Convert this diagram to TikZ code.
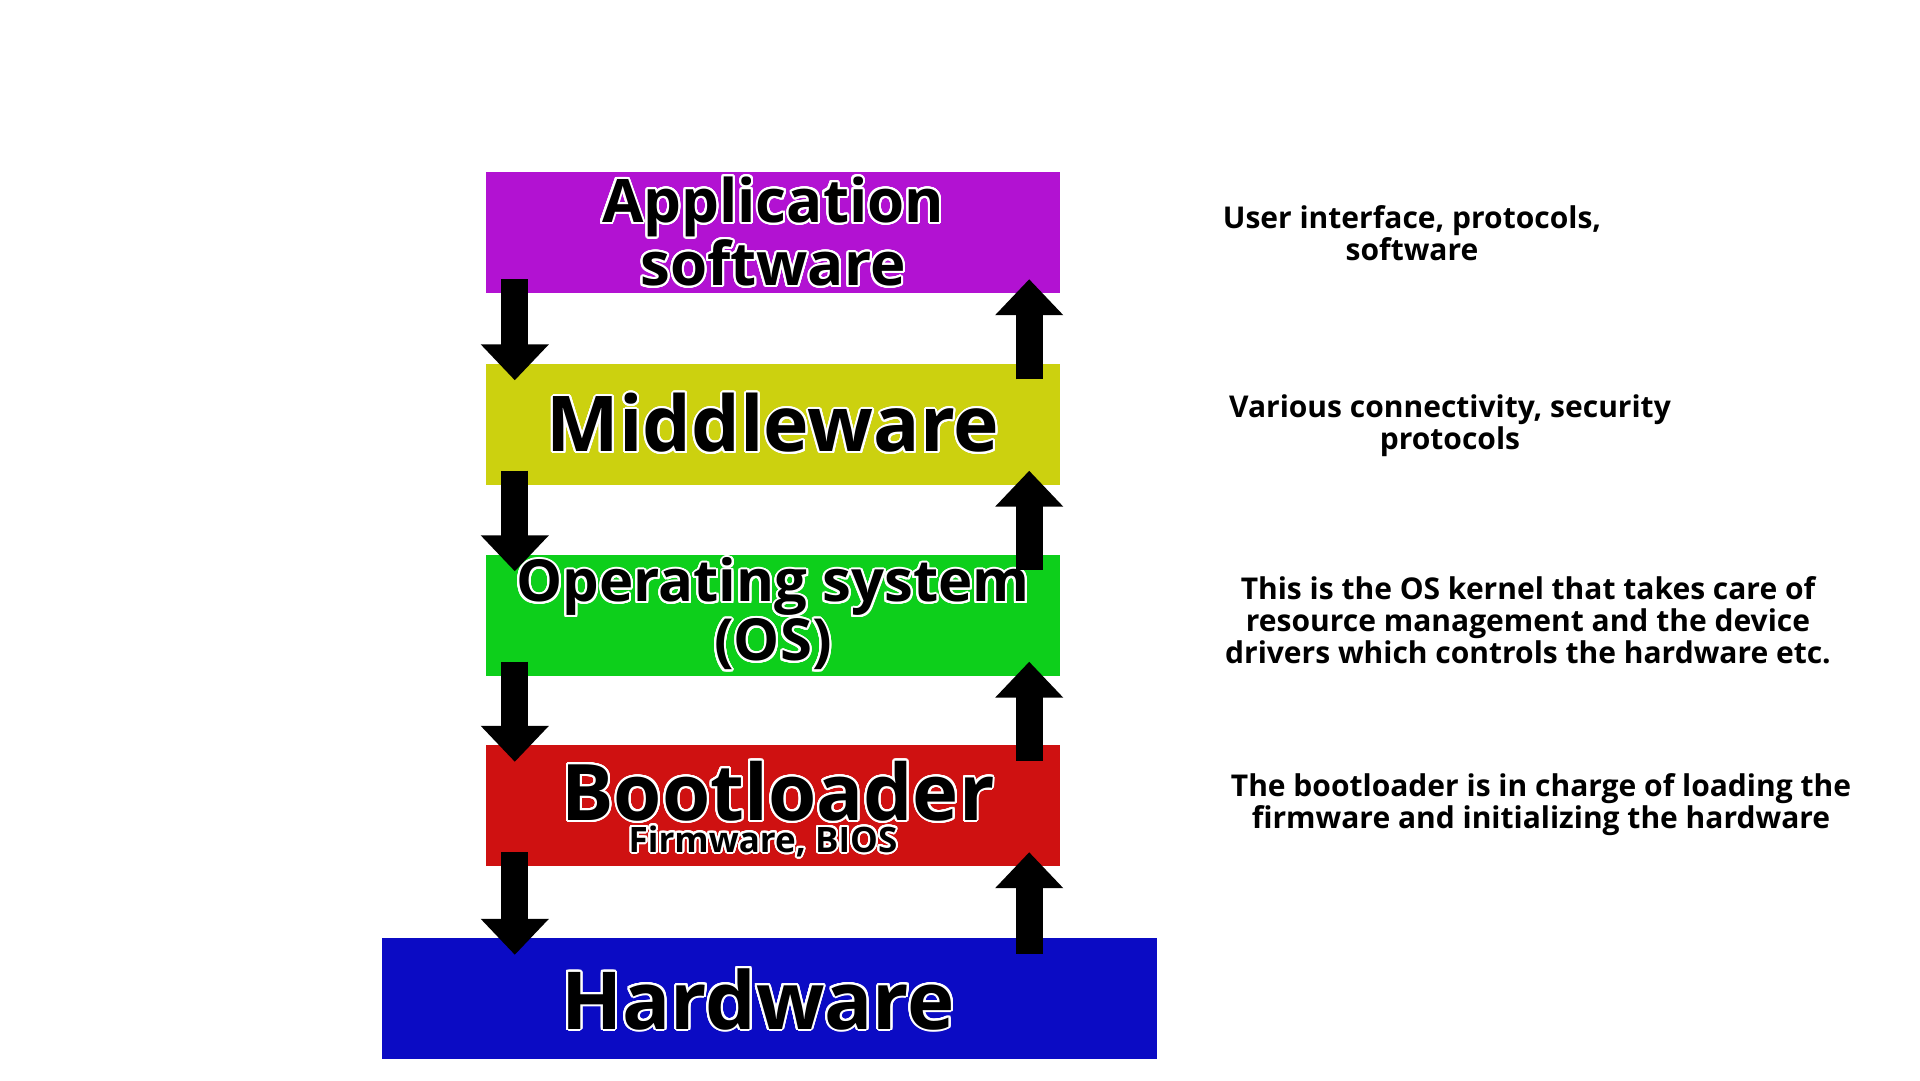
\documentclass[tikz,border=0pt]{standalone}
\usepackage{fontspec}
\setmainfont{Open Sans}
\usepackage{contour}
\contourlength{2pt}
\contournumber{32}
\usetikzlibrary{positioning, calc, arrows.meta}

\definecolor{appcol}{HTML}{B212D2}
\definecolor{midcol}{HTML}{CCD10F}
\definecolor{oscol}{HTML}{0DCF1B}
\definecolor{bootcol}{HTML}{CF1111}
\definecolor{hwcol}{HTML}{0B0BC4}

\tikzset{
	layer/.style={minimum width=574pt, minimum height=121pt, inner sep=0pt, font=\bfseries, align=center},
	desc/.style={font=\bfseries\fontsize{30}{32}\selectfont, align=center},
	flow/.style={line width=27pt, -{Triangle[width=66pt,length=36pt]}}
}

\begin{document}
\begin{tikzpicture}[x=1pt, y=-1pt]
		
		\useasboundingbox (0,0) rectangle (1920,1080);
		
		%//layers
		\node [layer, fill=appcol, font=\bfseries\fontsize{60}{58}\selectfont] (app) at (773,232.5) {\contour{white}{Application}\\\contour{white}{software}};
		\node [layer, fill=midcol, font=\bfseries\fontsize{77}{80}\selectfont] (mid) at (773,424) {\contour{white}{Middleware}};
		\node [layer, fill=oscol, font=\bfseries\fontsize{58}{56}\selectfont] (os) at (773,615) {\contour{white}{Operating system}\\\contour{white}{(OS)}};
		\node [layer, fill=bootcol] (boot) at (773,805.5) {};
		\node [font=\bfseries\fontsize{78}{80}\selectfont] (boottxt) at (778,792) {\contour{white}{Bootloader}};
		\node [font=\bfseries\fontsize{35}{35}\selectfont] (fw) at (763,842) {\contour{white}{Firmware, BIOS}};
		\node [layer, fill=hwcol, minimum width=775pt, font=\bfseries\fontsize{80}{80}\selectfont] (hw) at (769.5,998.5) {};
		\node [font=\bfseries\fontsize{80}{80}\selectfont] (hwtxt) at (758,1000) {\contour{white}{Hardware}};
		
		%//arrows between layers
		\foreach \a/\b in {app/mid, mid/os, os/boot, boot/hw}
		{
		\coordinate (d\a) at ($(\a.south west)+(29,-14)$);
		\coordinate (u\a) at ($(\a.south east)+(-31,-14)$);
		\draw [flow] (d\a) -- ($(d\a |- \b.north)+(0,17)$);
		\draw [flow] ($(u\a |- \b.north)+(0,16)$) -- (u\a);
		}
		
		%//descriptions
		\node [desc] (dapp) at (1412,233) {User interface, protocols,\\software};
		\node [desc] (dmid) at (1450,426) {Various connectivity, security\\protocols};
		\node [desc] (dos) at (1528,620) {This is the OS kernel that takes care of\\resource management and the device\\drivers which controls the hardware etc.};
		\node [desc] (dboot) at (1541,805) {The bootloader is in charge of loading the\\firmware and initializing the hardware};
		
		\end{tikzpicture}
\end{document}
